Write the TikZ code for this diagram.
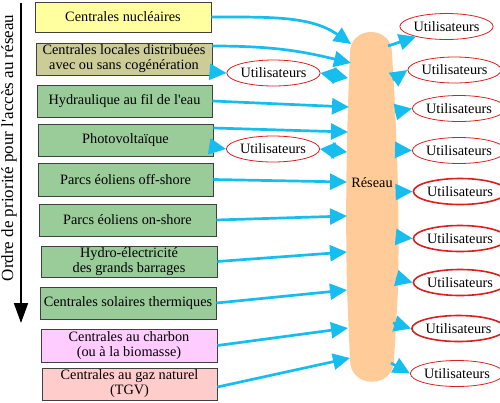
\documentclass[tikz,border=0pt]{standalone}
\usepackage{fontspec}
\setmainfont{Liberation Serif}[Ligatures=TeXOff]
\usetikzlibrary{shapes.geometric,arrows.meta}
\definecolor{arrowc}{RGB}{22,190,240}
\definecolor{peach}{RGB}{255,204,153}
\definecolor{cyel}{RGB}{255,255,160}
\definecolor{colive}{RGB}{204,204,153}
\definecolor{cgreen}{RGB}{153,204,153}
\definecolor{cpink}{RGB}{255,204,255}
\definecolor{csalmon}{RGB}{255,204,204}
\definecolor{ured}{RGB}{220,30,30}
\newcommand{\fs}{\fontsize{14.3}{15}\selectfont}
\tikzset{
  src/.style={draw=black!75, line width=0.8pt, inner sep=0pt, align=center, font=\fs},
  user/.style={ellipse, draw=ured, line width=0.8pt, inner sep=0pt, minimum width=77pt, minimum height=26pt, font=\fs},
  userthick/.style={user, line width=1.6pt},
  feed/.style={draw=arrowc, line width=2.7pt, -{Triangle[length=17pt,width=16pt]}},
  dfeed/.style={draw=arrowc, line width=2.7pt, {Triangle[length=15pt,width=16pt]}-{Triangle[length=15pt,width=16pt]}},
}
\begin{document}
\begin{tikzpicture}[x=1pt,y=-1pt]
\useasboundingbox (0,0) rectangle (500,402);
% priority arrow and label
\coordinate (p0) at (21,3);
\coordinate (p1) at (21,323);
\draw[line width=1.8pt, -{Triangle[length=20pt,width=14pt]}] (p0) -- (p1);
\node[rotate=90, font=\fontsize{17}{19}\selectfont, inner sep=0pt] (lbl) at (9,148) {Ordre de priorité pour l'accès au réseau};
% sources
\node[src, fill=cyel, minimum width=176pt, minimum height=30pt] (n1) at (123,17) {Centrales nucléaires};
\node[src, fill=colive, minimum width=176pt, minimum height=32pt] (n2) at (124,59) {Centrales locales distribuées\\avec ou sans cogénération};
\node[src, fill=cgreen, minimum width=175pt, minimum height=32pt] (n3) at (124.5,101) {Hydraulique au fil de l'eau};
\node[src, fill=cgreen, minimum width=175pt, minimum height=32pt] (n4) at (125.5,140) {Photovoltaïque};
\node[src, fill=cgreen, minimum width=175pt, minimum height=33pt] (n5) at (125.5,179.5) {Parcs éoliens off-shore};
\node[src, fill=cgreen, minimum width=177pt, minimum height=32pt] (n6) at (127.5,220) {Parcs éoliens on-shore};
\node[src, fill=cgreen, minimum width=176pt, minimum height=31pt] (n7) at (129,261.5) {Hydro-électricité\\des grands barrages};
\node[src, fill=cgreen, minimum width=176pt, minimum height=32pt] (n8) at (128,303) {Centrales solaires thermiques};
\node[src, fill=cpink, minimum width=176pt, minimum height=33pt] (n9) at (129,345.5) {Centrales au charbon\\(ou à la biomasse)};
\node[src, fill=csalmon, minimum width=175pt, minimum height=32pt] (n10) at (129.5,384) {Centrales au gaz naturel\\(TGV)};
% network
\fill[peach] (350,53) .. controls (350,25) and (392,25) .. (392,53)
  .. controls (396,120) and (400,200) .. (398,290) -- (394,360)
  .. controls (394,389) and (350,389) .. (350,360)
  -- (347,290) .. controls (345,200) and (347,120) .. (350,53) -- cycle;
\node[font=\fs, inner sep=0pt] (res) at (372,183) {Réseau};
% entry points on the network
\coordinate (r1) at (351,44);
\coordinate (r2) at (351,63);
\coordinate (rd1) at (348,78);
\coordinate (r3) at (349,107);
\coordinate (r4) at (348,132);
\coordinate (rd2) at (347,152);
\coordinate (r5) at (347,182);
\coordinate (r6) at (347,216);
\coordinate (r7) at (347,252);
\coordinate (r8) at (347,290);
\coordinate (r9) at (348,328);
\coordinate (r10) at (350,358);
% exit points
\coordinate (s1) at (388,46);
\coordinate (s2) at (393,80);
\coordinate (s3) at (395,112);
\coordinate (s4) at (397,150);
\coordinate (s5) at (397,192);
\coordinate (s6) at (397,237);
\coordinate (s7) at (396,278);
\coordinate (s8) at (393,323);
\coordinate (s9) at (391,363);
% users
\node[user] (l1) at (273.5,73) {Utilisateurs};
\node[user] (l2) at (273,149) {Utilisateurs};
\node[user] (u1) at (446.5,26.5) {Utilisateurs};
\node[user] (u2) at (454.5,70) {Utilisateurs};
\node[user] (u3) at (459,108.5) {Utilisateurs};
\node[user] (u4) at (459,150.5) {Utilisateurs};
\node[userthick] (u5) at (460,191.5) {Utilisateurs};
\node[userthick] (u6) at (460,238.5) {Utilisateurs};
\node[userthick] (u7) at (460,282.5) {Utilisateurs};
\node[userthick] (u8) at (458.5,328.5) {Utilisateurs};
\node[user] (u9) at (457,373.5) {Utilisateurs};
% feeds into network
\draw[feed] (n1.east) .. controls +(60,0) and +(-40,-28) .. (r1);
\draw[feed] ([yshift=13pt]n2.east) .. controls +(60,0) and +(-50,-12) .. (r2);
\draw[feed] (n3.east) -- (r3);
\draw[feed] ([yshift=12pt]n4.east) -- (r4);
\draw[feed] (n5.east) -- (r5);
\draw[feed] (n6.east) -- (r6);
\draw[feed] (n7.east) -- (r7);
\draw[feed] (n8.east) -- (r8);
\draw[feed] (n9.east) -- (r9);
\draw[feed] ([yshift=-3pt]n10.east) -- (r10);
% local users
\draw[feed] ([yshift=-13pt]n2.east) -- (l1.west);
\draw[feed] ([yshift=-7pt]n4.east) -- (l2.west);
\draw[dfeed] (l1.east) -- (rd1);
\draw[dfeed] (l2.east) -- (rd2);
% outputs
\draw[feed] (s1) -- (u1);
\draw[feed] (s2) -- (u2.west);
\draw[feed] (s3) -- (u3.west);
\draw[feed] (s4) -- (u4.west);
\draw[feed] (s5) -- (u5.west);
\draw[feed] (s6) -- (u6.west);
\draw[feed] (s7) -- (u7.west);
\draw[feed] (s8) -- (u8.west);
\draw[feed] (s9) -- (u9.west);
\end{tikzpicture}
\end{document}
